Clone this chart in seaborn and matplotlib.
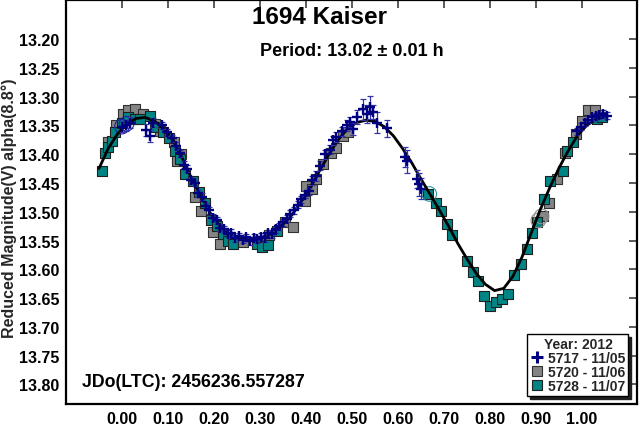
import numpy as np
import pandas as pd
import matplotlib
matplotlib.use("Agg")
import matplotlib.pyplot as plt
from matplotlib.lines import Line2D
import seaborn as sns

# ---------------- data ----------------
curve_phase = [-0.05, -0.03, -0.01, 0.01, 0.03, 0.05, 0.07, 0.09, 0.11, 0.13, 0.15, 0.17, 0.19,
               0.21, 0.23, 0.25, 0.27, 0.29, 0.31, 0.33, 0.35, 0.37, 0.39, 0.41, 0.43, 0.45,
               0.47, 0.49, 0.51, 0.53, 0.55, 0.57, 0.59, 0.61, 0.63, 0.65, 0.67, 0.69, 0.71,
               0.73, 0.75, 0.77, 0.79, 0.81, 0.83, 0.85, 0.87, 0.89, 0.91, 0.93, 0.95, 0.97,
               0.99, 1.01, 1.03, 1.05]
curve_mag = [13.425, 13.390, 13.365, 13.348, 13.338, 13.336, 13.342, 13.355, 13.375, 13.405,
             13.440, 13.470, 13.500, 13.522, 13.537, 13.545, 13.548, 13.548, 13.545, 13.535,
             13.522, 13.505, 13.482, 13.458, 13.428, 13.400, 13.375, 13.356, 13.345, 13.341,
             13.343, 13.352, 13.368, 13.390, 13.415, 13.443, 13.470, 13.497, 13.525, 13.555,
             13.582, 13.607, 13.626, 13.637, 13.633, 13.612, 13.578, 13.536, 13.495, 13.458,
             13.424, 13.394, 13.368, 13.350, 13.340, 13.335]

# 5717 - 11/05 (blue plus with error bars)
s5717_phase = [0.000, 0.008, 0.018, 0.052, 0.060, 0.068, 0.088, 0.098, 0.108, 0.118, 0.126,
               0.134, 0.142, 0.150, 0.158, 0.166, 0.174, 0.182, 0.190, 0.198, 0.206, 0.214,
               0.222, 0.230, 0.238, 0.246, 0.254, 0.262, 0.270, 0.278, 0.286, 0.294, 0.302,
               0.310, 0.318, 0.326, 0.334, 0.342, 0.350, 0.358, 0.366, 0.374, 0.382, 0.390,
               0.398, 0.406, 0.414, 0.422, 0.430, 0.441, 0.452, 0.459, 0.466, 0.478, 0.489,
               0.496, 0.503, 0.510, 0.525, 0.532, 0.539, 0.546, 0.554, 0.577, 0.615, 0.620,
               0.641, 0.645, 0.650, 0.990, 0.998, 1.006, 1.014, 1.022, 1.030, 1.038, 1.046,
               1.054]
s5717_mag = [13.352, 13.350, 13.345, 13.358, 13.368, 13.345, 13.350, 13.362, 13.372, 13.385,
             13.398, 13.418, 13.425, 13.445, 13.450, 13.468, 13.474, 13.490, 13.497, 13.510,
             13.515, 13.528, 13.530, 13.538, 13.536, 13.546, 13.542, 13.549, 13.544, 13.551,
             13.545, 13.548, 13.543, 13.546, 13.537, 13.539, 13.530, 13.525, 13.518, 13.512,
             13.503, 13.497, 13.488, 13.478, 13.470, 13.464, 13.445, 13.438, 13.420, 13.400,
             13.392, 13.376, 13.370, 13.360, 13.350, 13.344, 13.356, 13.336, 13.322, 13.330,
             13.318, 13.327, 13.345, 13.355, 13.405, 13.412, 13.443, 13.452, 13.460, 13.360,
             13.352, 13.345, 13.340, 13.336, 13.334, 13.332, 13.330, 13.333]
s5717_err = [0.010, 0.010, 0.010, 0.010, 0.010, 0.008, 0.006, 0.006, 0.006, 0.006, 0.006,
             0.006, 0.006, 0.006, 0.006, 0.006, 0.006, 0.006, 0.006, 0.006, 0.006, 0.006,
             0.006, 0.006, 0.006, 0.006, 0.006, 0.006, 0.006, 0.006, 0.006, 0.006, 0.006,
             0.006, 0.006, 0.006, 0.006, 0.006, 0.006, 0.006, 0.006, 0.006, 0.006, 0.006,
             0.006, 0.006, 0.008, 0.008, 0.008, 0.008, 0.008, 0.008, 0.008, 0.008, 0.010,
             0.008, 0.010, 0.012, 0.018, 0.015, 0.020, 0.012, 0.018, 0.015, 0.018, 0.020,
             0.015, 0.020, 0.018, 0.006, 0.006, 0.006, 0.006, 0.006, 0.006, 0.006, 0.006,
             0.006]

# 5720 - 11/06 (gray squares)
s5720_phase = [-0.030, -0.012, 0.003, 0.014, 0.028, 0.045, 0.072, 0.083, 0.112, 0.119, 0.128,
               0.159, 0.171, 0.197, 0.212, 0.262, 0.320, 0.354, 0.372, 0.398, 0.401, 0.412,
               0.422, 0.438, 0.454, 0.465, 0.481, 0.492, 0.916, 0.929, 0.945, 0.963, 0.988,
               1.001, 1.014, 1.028]
s5720_mag = [13.378, 13.350, 13.330, 13.324, 13.322, 13.330, 13.348, 13.359, 13.379, 13.411,
             13.400, 13.474, 13.498, 13.535, 13.556, 13.552, 13.541, 13.518, 13.527, 13.481,
             13.455, 13.460, 13.443, 13.417, 13.397, 13.390, 13.368, 13.362, 13.507, 13.485,
             13.443, 13.398, 13.364, 13.342, 13.324, 13.323]

# 5728 - 11/07 (teal squares)
s5728_phase = [-0.044, -0.037, -0.030, -0.022, -0.015, -0.001, 0.014, 0.028, 0.039, 0.061,
               0.075, 0.090, 0.102, 0.115, 0.126, 0.137, 0.155, 0.168, 0.180, 0.193, 0.206,
               0.219, 0.231, 0.242, 0.293, 0.304, 0.318, 0.336, 0.666, 0.683, 0.693, 0.707,
               0.718, 0.749, 0.762, 0.775, 0.787, 0.801, 0.814, 0.827, 0.840, 0.852, 0.867,
               0.880, 0.891, 0.903, 0.918, 0.930, 0.958, 0.968, 0.981, 1.032, 1.043]
s5728_mag = [13.429, 13.397, 13.388, 13.377, 13.362, 13.345, 13.336, 13.339, 13.339, 13.333,
             13.353, 13.362, 13.371, 13.394, 13.408, 13.434, 13.446, 13.465, 13.485, 13.515,
             13.524, 13.539, 13.550, 13.556, 13.556, 13.562, 13.558, 13.533, 13.469, 13.485,
             13.499, 13.522, 13.540, 13.585, 13.605, 13.621, 13.647, 13.664, 13.657, 13.651,
             13.643, 13.610, 13.591, 13.565, 13.536, 13.517, 13.478, 13.446, 13.429, 13.394,
             13.378, 13.338, 13.336]

# circled (flagged) points
flag_phase = [0.000, 0.010, 0.668, 0.905, 0.912]
flag_mag = [13.352, 13.347, 13.469, 13.515, 13.508]
flag_color = ["#2020a0", "#2020a0", "#2a9a9a", "#909090", "#909090"]

series_labels = ["5717 - 11/05", "5720 - 11/06", "5728 - 11/07"]
legend_title = "Year: 2012"
title_text = "1694 Kaiser"
subtitle_text = "Period: 13.02 \u00b1 0.01 h"
jd_text = "JDo(LTC): 2456236.557287"
ylabel_text = "Reduced Magnitude(V) alpha(8.8\u00b0)"
x_ticks = [0.00, 0.10, 0.20, 0.30, 0.40, 0.50, 0.60, 0.70, 0.80, 0.90, 1.00]
y_ticks = [13.20, 13.25, 13.30, 13.35, 13.40, 13.45, 13.50, 13.55, 13.60, 13.65, 13.70, 13.75, 13.80]

# ---------------- style ----------------
sns.set_theme(style="white")
plt.rcParams["font.family"] = ["Liberation Sans", "DejaVu Sans"]
plt.rcParams["font.weight"] = "bold"

C_BLUE = "#000080"
C_ERR = "#3434a8"
C_GRAY = "#848484"
C_TEAL = "#008484"

fig = plt.figure(figsize=(6.4, 4.35), dpi=100)
ax = fig.add_axes([66 / 640, 30 / 435, 571 / 640, 404 / 435])

df_curve = pd.DataFrame({"phase": curve_phase, "mag": curve_mag})
df_a = pd.DataFrame({"phase": s5717_phase, "mag": s5717_mag, "err": s5717_err})
df_b = pd.DataFrame({"phase": s5720_phase, "mag": s5720_mag})
df_c = pd.DataFrame({"phase": s5728_phase, "mag": s5728_mag})

sns.scatterplot(data=df_b, x="phase", y="mag", ax=ax, marker="s", s=46, color=C_GRAY,
                edgecolor="#303030", linewidth=0.8, zorder=2, legend=False)
sns.scatterplot(data=df_c, x="phase", y="mag", ax=ax, marker="s", s=46, color=C_TEAL,
                edgecolor="#202020", linewidth=0.8, zorder=3, legend=False)
ax.scatter(flag_phase, flag_mag, s=110, facecolors="none", edgecolors=flag_color,
           linewidths=0.8, zorder=3)
sns.lineplot(data=df_curve, x="phase", y="mag", ax=ax, color="black", linewidth=2.0,
             sort=False, estimator=None, zorder=4)
ax.errorbar(df_a["phase"], df_a["mag"], yerr=df_a["err"], fmt="none", ecolor=C_ERR,
            elinewidth=0.9, capsize=2.5, capthick=0.9, zorder=5)
sns.scatterplot(data=df_a, x="phase", y="mag", ax=ax, marker="+", s=50, color=C_BLUE,
                linewidth=1.7, zorder=6, legend=False)

ax.set_xlim(-0.1217, 1.1196)
ax.set_ylim(13.834, 13.132)
ax.set_xticks(x_ticks)
ax.set_yticks(y_ticks)
ax.set_xticklabels([f"{v:.2f}" for v in x_ticks])
ax.set_yticklabels([f"{v:.2f}" for v in y_ticks])
ax.tick_params(axis="both", direction="in", length=6, width=1.2, color="#404040",
               labelsize=11.5, labelcolor="black", top=True, right=True, pad=5)
for lab in ax.get_xticklabels() + ax.get_yticklabels():
    lab.set_fontweight("bold")
ax.set_xlabel("")
ax.set_ylabel(ylabel_text, fontsize=11.5, fontweight="bold")
ax.yaxis.label.set_va("center")
ax.yaxis.set_label_coords(-0.1, 0.488)
for sp in ax.spines.values():
    sp.set_color("black")
    sp.set_linewidth(1.6)

fig.text(0.5, 1 - 18 / 435, title_text, ha="center", va="center",
         fontsize=17.5, fontweight="bold", color="black")
ax.text(0.5, 0.874, subtitle_text, transform=ax.transAxes, ha="center", va="center",
        fontsize=13, fontweight="bold", color="black")
ax.text(0.028, 0.055, jd_text, transform=ax.transAxes, ha="left", va="center",
        fontsize=12.8, fontweight="bold", color="black")

handles = [
    Line2D([], [], linestyle="none", marker="+", markersize=9, markeredgewidth=2.2, color=C_BLUE),
    Line2D([], [], linestyle="none", marker="s", markersize=7, markerfacecolor=C_GRAY,
           markeredgecolor="#303030", markeredgewidth=0.8),
    Line2D([], [], linestyle="none", marker="s", markersize=7, markerfacecolor=C_TEAL,
           markeredgecolor="#202020", markeredgewidth=0.8),
]
leg = ax.legend(handles, series_labels, title=legend_title, loc="lower right",
                bbox_to_anchor=(0.985, 0.02), frameon=True, fancybox=False,
                shadow={"color": "#202020", "alpha": 1.0}, framealpha=1, edgecolor="black",
                prop={"weight": "bold", "size": 10}, title_fontproperties={"weight": "bold", "size": 10},
                handletextpad=0.3, handlelength=1.0, borderpad=0.2, labelspacing=0.0,
                borderaxespad=0.0)
leg._legend_box.sep = 0
leg.get_frame().set_linewidth(1.0)

fig.savefig("out.png", dpi=100)
